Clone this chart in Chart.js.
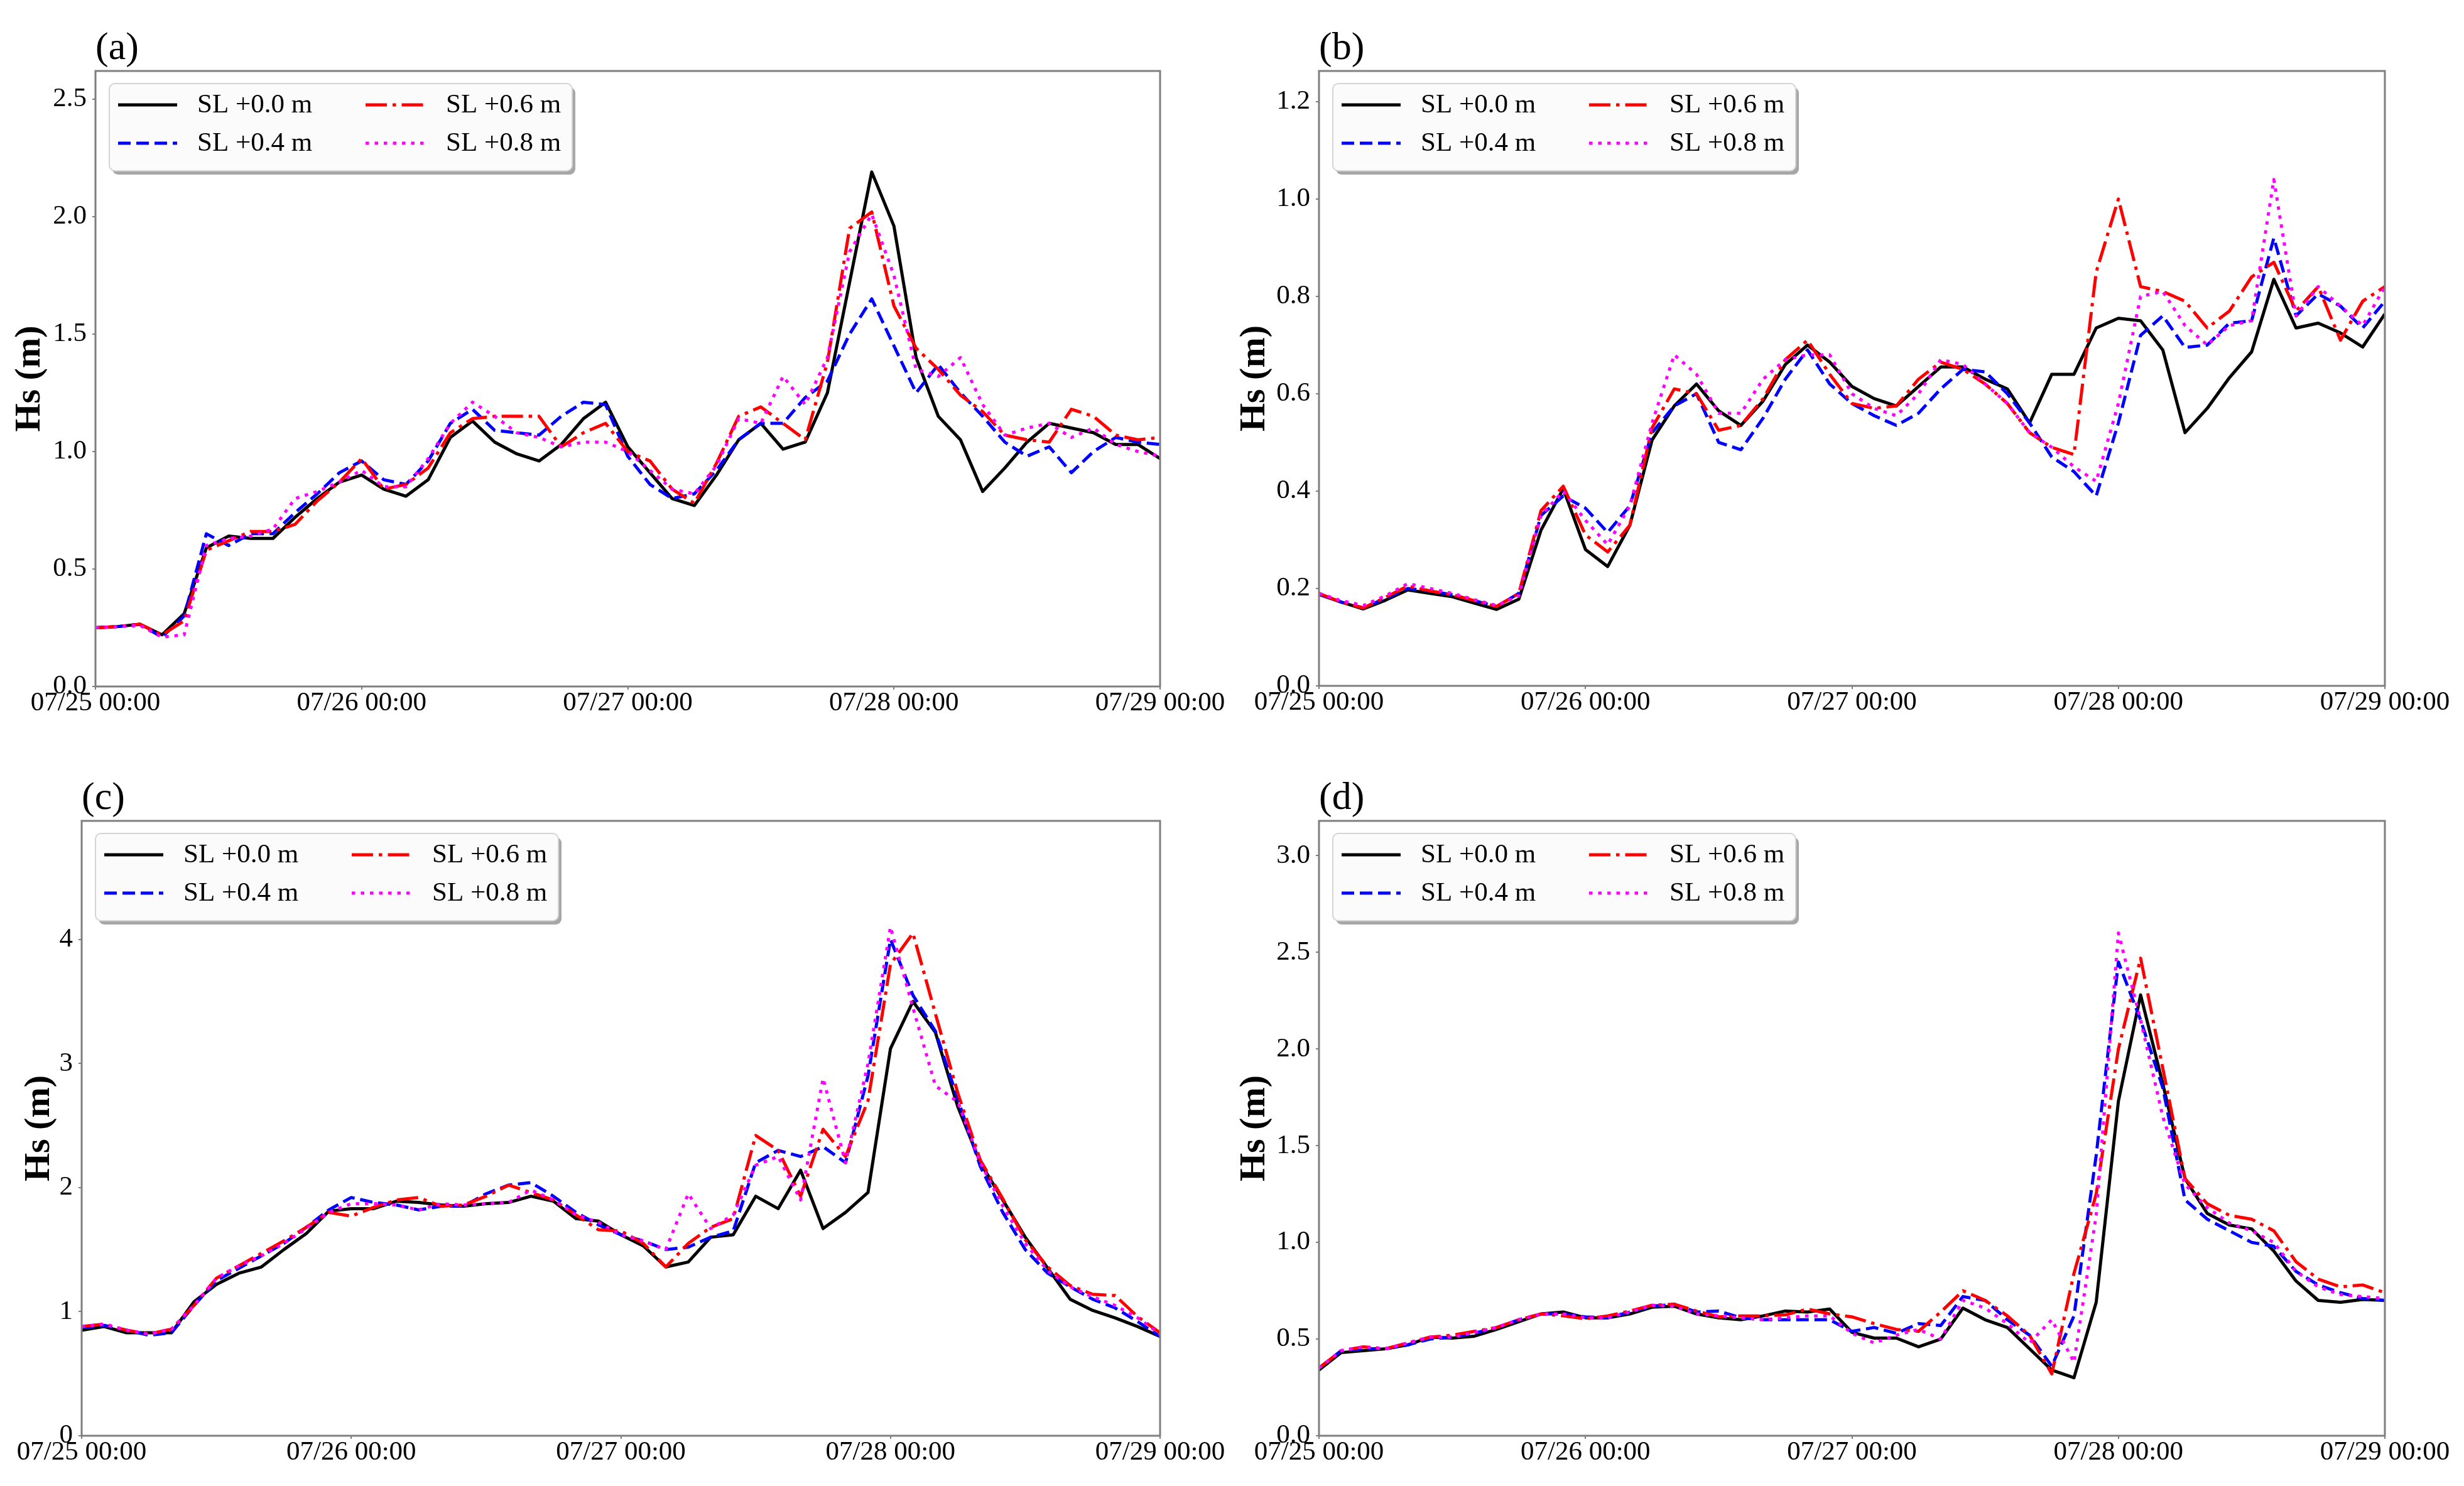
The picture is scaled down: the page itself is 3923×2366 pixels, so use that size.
<!DOCTYPE html>
<html>
<head>
<meta charset="utf-8">
<title>Hs under sea level rise scenarios</title>
<script src="https://cdn.jsdelivr.net/npm/chart.js@4.4.1/dist/chart.umd.min.js"></script>
<style>
html,body{margin:0;padding:0;background:#ffffff;}
#wrap{position:relative;width:3923px;height:2366px;overflow:hidden;background:#ffffff;}
#wrap canvas{position:absolute;left:0;top:0;}
</style>
</head>
<body>
<div id="wrap">
<canvas id="pa" width="3923" height="2366"></canvas>
<canvas id="pb" width="3923" height="2366"></canvas>
<canvas id="pc" width="3923" height="2366"></canvas>
<canvas id="pd" width="3923" height="2366"></canvas>
</div>
<script>
// ---- data (2-hourly, hours since 07/25 00:00) ----
const hours = [0,2,4,6,8,10,12,14,16,18,20,22,24,26,28,30,32,34,36,38,40,42,44,46,48,50,52,54,56,58,60,62,64,66,68,70,72,74,76,78,80,82,84,86,88,90,92,94,96];
const tickLabels = ['07/25 00:00','07/26 00:00','07/27 00:00','07/28 00:00','07/29 00:00'];
const seriesNames = ['SL +0.0 m','SL +0.4 m','SL +0.6 m','SL +0.8 m'];
const panelTags = ['(a)','(b)','(c)','(d)'];
const yTitle = 'Hs (m)';

// panel (a)
const a_sl00 = [0.25,0.255,0.265,0.22,0.31,0.59,0.64,0.63,0.63,0.72,0.80,0.87,0.90,0.84,0.81,0.88,1.06,1.13,1.04,0.99,0.96,1.03,1.14,1.21,1.02,0.91,0.80,0.77,0.90,1.05,1.12,1.01,1.04,1.25,1.72,2.19,1.96,1.40,1.15,1.05,0.83,0.93,1.04,1.12,1.10,1.08,1.03,1.03,0.97];
const a_sl04 = [0.25,0.255,0.265,0.21,0.30,0.65,0.60,0.65,0.65,0.74,0.82,0.91,0.96,0.88,0.86,0.96,1.12,1.18,1.09,1.08,1.07,1.15,1.21,1.20,0.98,0.86,0.80,0.82,0.92,1.05,1.12,1.12,1.23,1.30,1.50,1.65,1.45,1.25,1.37,1.25,1.15,1.04,0.98,1.02,0.91,1.00,1.06,1.04,1.03];
const a_sl06 = [0.25,0.255,0.265,0.22,0.28,0.58,0.62,0.66,0.66,0.69,0.79,0.87,0.97,0.84,0.86,0.93,1.08,1.14,1.15,1.15,1.15,1.02,1.08,1.12,1.00,0.96,0.84,0.78,0.95,1.15,1.19,1.12,1.05,1.38,1.95,2.02,1.62,1.44,1.35,1.24,1.17,1.07,1.05,1.04,1.18,1.15,1.07,1.05,1.06];
const a_sl08 = [0.25,0.255,0.26,0.21,0.22,0.60,0.63,0.64,0.67,0.80,0.83,0.87,0.92,0.85,0.85,0.97,1.12,1.21,1.15,1.08,1.06,1.02,1.04,1.04,1.00,0.92,0.84,0.82,0.94,1.14,1.12,1.32,1.20,1.40,1.85,2.01,1.75,1.35,1.32,1.40,1.20,1.07,1.10,1.12,1.06,1.10,1.03,1.00,0.98];

// panel (b)
const b_sl00 = [0.188,0.172,0.158,0.176,0.197,0.19,0.183,0.17,0.157,0.178,0.32,0.405,0.28,0.245,0.33,0.505,0.575,0.62,0.565,0.535,0.585,0.66,0.70,0.665,0.615,0.59,0.575,0.615,0.655,0.655,0.63,0.61,0.54,0.64,0.64,0.735,0.755,0.75,0.69,0.52,0.57,0.633,0.686,0.835,0.735,0.745,0.725,0.696,0.764];
const b_sl04 = [0.188,0.172,0.16,0.18,0.20,0.195,0.187,0.175,0.163,0.19,0.35,0.39,0.365,0.315,0.37,0.52,0.575,0.60,0.50,0.485,0.55,0.63,0.69,0.62,0.58,0.555,0.535,0.56,0.61,0.65,0.645,0.60,0.54,0.47,0.44,0.39,0.54,0.72,0.76,0.695,0.70,0.745,0.75,0.92,0.76,0.805,0.78,0.735,0.79];
const b_sl06 = [0.19,0.172,0.16,0.182,0.205,0.195,0.187,0.175,0.163,0.19,0.36,0.41,0.31,0.275,0.33,0.53,0.61,0.60,0.525,0.535,0.59,0.67,0.71,0.64,0.58,0.57,0.575,0.63,0.665,0.65,0.62,0.58,0.52,0.49,0.475,0.85,1.00,0.82,0.81,0.79,0.735,0.77,0.84,0.87,0.77,0.82,0.71,0.79,0.82];
const b_sl08 = [0.19,0.175,0.165,0.185,0.21,0.20,0.19,0.177,0.165,0.185,0.35,0.40,0.34,0.29,0.37,0.54,0.68,0.64,0.56,0.56,0.63,0.67,0.68,0.68,0.60,0.57,0.555,0.60,0.67,0.66,0.62,0.58,0.52,0.49,0.45,0.42,0.58,0.80,0.81,0.74,0.70,0.74,0.75,1.04,0.76,0.82,0.78,0.74,0.82];

// panel (c)
const c_sl00 = [0.85,0.88,0.83,0.83,0.83,1.08,1.22,1.31,1.36,1.50,1.63,1.81,1.83,1.83,1.89,1.88,1.86,1.85,1.87,1.88,1.93,1.89,1.75,1.73,1.62,1.53,1.36,1.40,1.60,1.62,1.93,1.83,2.14,1.67,1.80,1.96,3.12,3.50,3.25,2.65,2.20,1.90,1.60,1.35,1.10,1.01,0.95,0.88,0.80];
const c_sl04 = [0.87,0.89,0.85,0.81,0.83,1.05,1.25,1.35,1.45,1.55,1.68,1.82,1.92,1.88,1.86,1.82,1.85,1.85,1.95,2.02,2.04,1.93,1.80,1.70,1.62,1.57,1.50,1.52,1.60,1.65,2.20,2.30,2.25,2.33,2.20,2.90,4.00,3.55,3.26,2.71,2.17,1.80,1.50,1.31,1.20,1.10,1.03,0.92,0.80];
const c_sl06 = [0.88,0.90,0.85,0.82,0.86,1.05,1.27,1.37,1.47,1.57,1.68,1.80,1.77,1.84,1.90,1.92,1.85,1.86,1.93,2.02,1.96,1.90,1.78,1.66,1.65,1.55,1.36,1.55,1.68,1.75,2.42,2.30,1.93,2.47,2.25,2.70,3.80,4.05,3.40,2.76,2.22,1.91,1.58,1.36,1.21,1.14,1.13,0.96,0.83];
const c_sl08 = [0.88,0.90,0.85,0.82,0.86,1.05,1.27,1.37,1.45,1.55,1.67,1.80,1.87,1.87,1.86,1.82,1.87,1.86,1.87,1.88,1.98,1.90,1.78,1.72,1.62,1.57,1.50,1.95,1.67,1.78,2.18,2.25,1.90,2.88,2.20,3.00,4.10,3.45,2.82,2.69,2.20,1.85,1.55,1.33,1.20,1.12,1.05,0.95,0.82];

// panel (d)
const d_sl00 = [0.34,0.43,0.44,0.45,0.47,0.51,0.505,0.515,0.55,0.59,0.63,0.64,0.61,0.61,0.63,0.665,0.67,0.63,0.61,0.60,0.62,0.645,0.64,0.655,0.535,0.505,0.505,0.46,0.50,0.66,0.60,0.56,0.45,0.34,0.30,0.69,1.73,2.28,1.82,1.33,1.15,1.09,1.07,0.955,0.80,0.70,0.69,0.705,0.70];
const d_sl04 = [0.35,0.44,0.45,0.45,0.47,0.50,0.51,0.53,0.56,0.60,0.63,0.63,0.615,0.61,0.64,0.67,0.68,0.64,0.645,0.61,0.60,0.60,0.60,0.60,0.54,0.56,0.53,0.58,0.57,0.72,0.70,0.60,0.52,0.36,0.62,1.45,2.45,2.15,1.80,1.22,1.12,1.06,1.00,0.98,0.85,0.78,0.74,0.71,0.70];
const d_sl06 = [0.35,0.44,0.46,0.45,0.48,0.51,0.52,0.54,0.56,0.60,0.63,0.62,0.605,0.62,0.645,0.675,0.68,0.645,0.615,0.62,0.62,0.625,0.655,0.63,0.615,0.58,0.55,0.54,0.64,0.75,0.70,0.62,0.52,0.32,0.84,1.25,2.00,2.47,1.90,1.33,1.20,1.14,1.12,1.06,0.90,0.81,0.77,0.78,0.74];
const d_sl08 = [0.35,0.44,0.46,0.45,0.48,0.51,0.51,0.535,0.56,0.60,0.63,0.63,0.61,0.61,0.64,0.675,0.67,0.63,0.62,0.61,0.60,0.61,0.62,0.62,0.53,0.48,0.52,0.55,0.50,0.70,0.66,0.58,0.48,0.60,0.38,1.14,2.60,2.15,1.65,1.30,1.18,1.10,1.06,1.00,0.85,0.77,0.73,0.72,0.71];

// ---- styling ----
const FONT = "'Liberation Serif', 'Times New Roman', Times, serif";
const lineStyles = [
  {color:'#000000', dash:[]},
  {color:'#0000ff', dash:[20,9]},
  {color:'#ff0000', dash:[34,9,5.5,9]},
  {color:'#ff00ff', dash:[5.5,9]}
];
const W = 3923, H = 2366, Y_AXIS_W = 130, X_AXIS_H = 80;

const panels = [
  {id:'pa', tag:panelTags[0], series:[a_sl00,a_sl04,a_sl06,a_sl08], yMax:2.62,  yStep:0.5, dec:1, L:152,  R:1847, T:113,  B:1093, titleX:48},
  {id:'pb', tag:panelTags[1], series:[b_sl00,b_sl04,b_sl06,b_sl08], yMax:1.263, yStep:0.2, dec:1, L:2100, R:3797, T:113,  B:1092, titleX:1998},
  {id:'pc', tag:panelTags[2], series:[c_sl00,c_sl04,c_sl06,c_sl08], yMax:4.955, yStep:1,   dec:0, L:130,  R:1847, T:1307, B:2286, titleX:63},
  {id:'pd', tag:panelTags[3], series:[d_sl00,d_sl04,d_sl06,d_sl08], yMax:3.18,  yStep:0.5, dec:1, L:2100, R:3797, T:1307, B:2286, titleX:1998}
];

function roundRectPath(ctx, x, y, w, h, r) {
  ctx.beginPath();
  ctx.moveTo(x + r, y);
  ctx.lineTo(x + w - r, y);
  ctx.arcTo(x + w, y, x + w, y + r, r);
  ctx.lineTo(x + w, y + h - r);
  ctx.arcTo(x + w, y + h, x + w - r, y + h, r);
  ctx.lineTo(x + r, y + h);
  ctx.arcTo(x, y + h, x, y + h - r, r);
  ctx.lineTo(x, y + r);
  ctx.arcTo(x, y, x + r, y, r);
  ctx.closePath();
}

const decor = {
  id: 'decor',
  afterDatasetsDraw(chart, args, opts) {
    const ctx = chart.ctx, ca = chart.chartArea;
    ctx.save();
    // frame
    ctx.setLineDash([]);
    ctx.strokeStyle = '#7f7f7f';
    ctx.lineWidth = 3;
    ctx.strokeRect(ca.left, ca.top, ca.right - ca.left, ca.bottom - ca.top);
    // panel tag
    ctx.fillStyle = '#000000';
    ctx.font = '62px ' + FONT;
    ctx.textAlign = 'left';
    ctx.textBaseline = 'alphabetic';
    ctx.fillText(opts.tag, ca.left, ca.top - 19);
    // legend box
    const bx = ca.left + 22, by = ca.top + 20, bw = 737, bh = 139, r = 9;
    ctx.fillStyle = 'rgba(60,60,60,0.45)';
    roundRectPath(ctx, bx + 5, by + 6, bw, bh, r);
    ctx.fill();
    ctx.fillStyle = '#fbfbfb';
    roundRectPath(ctx, bx, by, bw, bh, r);
    ctx.fill();
    ctx.strokeStyle = '#d4d4d4';
    ctx.lineWidth = 2;
    ctx.stroke();
    const slots = [[0,0],[0,1],[1,0],[1,1]];
    const sampleX = [14, 408], textX = [140, 536], rowY = [34, 95];
    chart.data.datasets.forEach((ds, i) => {
      const [c, rw] = slots[i];
      const yy = by + rowY[rw];
      ctx.beginPath();
      ctx.setLineDash(ds.borderDash || []);
      ctx.lineDashOffset = 0;
      ctx.strokeStyle = ds.borderColor;
      ctx.lineWidth = ds.borderWidth;
      ctx.lineCap = 'butt';
      ctx.moveTo(bx + sampleX[c], yy);
      ctx.lineTo(bx + sampleX[c] + 94, yy);
      ctx.stroke();
      ctx.setLineDash([]);
      ctx.fillStyle = '#000000';
      ctx.font = '43px ' + FONT;
      ctx.textBaseline = 'middle';
      ctx.textAlign = 'left';
      ctx.fillText(ds.label, bx + textX[c], yy + 1);
    });
    ctx.restore();
  }
};

panels.forEach(p => {
  const el = document.getElementById(p.id);
  const datasets = p.series.map((s, i) => ({
    label: seriesNames[i],
    data: hours.map((h, j) => ({x: h, y: s[j]})),
    borderColor: lineStyles[i].color,
    borderDash: lineStyles[i].dash,
    borderWidth: 5,
    borderCapStyle: 'butt',
    borderJoinStyle: 'round',
    pointRadius: 0,
    pointHoverRadius: 0,
    tension: 0,
    fill: false,
    order: 4 - i
  }));
  const tickGrid = {display:true, drawOnChartArea:false, drawTicks:true, tickLength:5, color:'#7f7f7f', tickColor:'#7f7f7f', lineWidth:2, tickWidth:2};
  new Chart(el, {
    type: 'line',
    data: {datasets},
    options: {
      responsive: false,
      animation: false,
      devicePixelRatio: 1,
      events: [],
      layout: {padding: {left: p.L - Y_AXIS_W, right: W - p.R, top: p.T, bottom: H - p.B - X_AXIS_H}},
      plugins: {legend: {display: false}, tooltip: {enabled: false}, title: {display: false}, decor: {tag: p.tag}},
      scales: {
        x: {
          type: 'linear', min: 0, max: 96,
          afterFit(s) { s.height = X_AXIS_H; },
          ticks: {
            stepSize: 24, autoSkip: false, maxRotation: 0, minRotation: 0, padding: 0, color: '#000000',
            font: {family: FONT, size: 43, lineHeight: 1},
            callback: (v) => tickLabels[Math.round(v / 24)]
          },
          grid: tickGrid,
          border: {display: false}
        },
        y: {
          type: 'linear', min: 0, max: p.yMax,
          afterFit(s) { s.width = Y_AXIS_W; },
          ticks: {
            stepSize: p.yStep, includeBounds: false, padding: 9, color: '#000000',
            font: {family: FONT, size: 43, lineHeight: 1},
            callback: (v) => Number(v).toFixed(p.dec)
          },
          grid: tickGrid,
          border: {display: false},
          title: {
            display: true, text: yTitle, color: '#000000',
            font: {family: FONT, size: 58, weight: 'bold', lineHeight: 0.8},
            padding: {top: p.titleX - (p.L - Y_AXIS_W) - 23.2, bottom: 0}
          }
        }
      }
    },
    plugins: [decor]
  });
});
</script>
</body>
</html>
